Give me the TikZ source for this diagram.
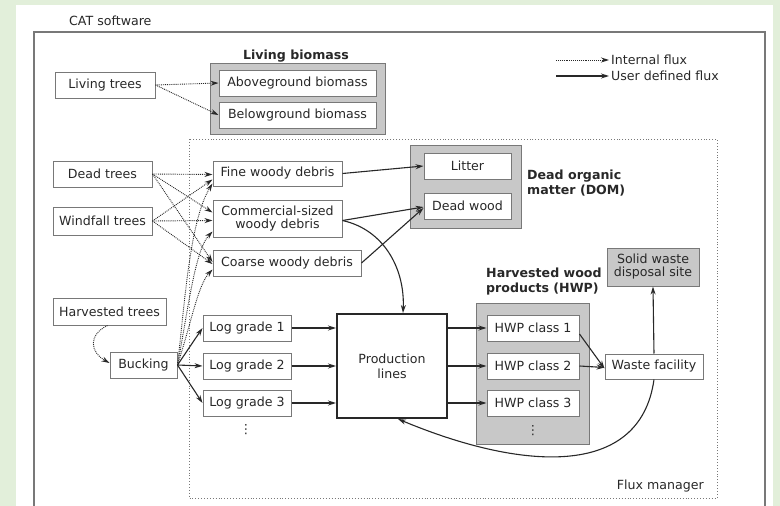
\documentclass[tikz,border=0pt]{standalone}
\usepackage{fontspec}
\setmainfont{DejaVu Sans}
\usetikzlibrary{arrows.meta}
\definecolor{bggreen}{RGB}{226,239,218}
\definecolor{ink}{RGB}{40,40,40}
\definecolor{boxline}{RGB}{120,120,120}
\definecolor{gfill}{RGB}{200,200,200}
\begin{document}
\begin{tikzpicture}[x=1pt,y=-1pt,
  every node/.style={font=\fontsize{12.6}{15}\selectfont, text=ink, inner sep=0pt},
  wbox/.style={draw=boxline, fill=white, line width=1pt, align=center},
  gbox/.style={draw=boxline, fill=gfill, line width=1pt},
  ttl/.style={font=\fontsize{12.6}{15}\selectfont\bfseries, align=left},
  flow/.style={draw=ink, line width=1.1pt, -{Stealth[length=8pt,width=5pt]}},
  intf/.style={draw=ink, line width=0.9pt, densely dotted, -{Stealth[length=8pt,width=5pt]}}
]
\useasboundingbox (0,0) rectangle (780,506);
\fill[bggreen] (0,0) rectangle (780,506);
\fill[white] (16,5) rectangle (773,506);
% outer CAT box
\draw[boxline, line width=1.4pt] (34,506) -- (34,32) -- (765,32) -- (765,506);
\node[anchor=west] (cat) at (69,21) {CAT software};
% flux manager
\draw[boxline, line width=0.9pt, dotted] (189,139) rectangle (717,498);
\node[anchor=east] (fm) at (704,486) {Flux manager};

% legend
\coordinate (l1a) at (556,60); \coordinate (l1b) at (609,60);
\coordinate (l2a) at (556,76); \coordinate (l2b) at (609,76);
\draw[intf] (l1a) -- (l1b);
\draw[flow] (l2a) -- (l2b);
\node[anchor=west] (lt1) at (611,60) {Internal flux};
\node[anchor=west] (lt2) at (611,76) {User defined flux};

% living biomass
\node[gbox, minimum width=175pt, minimum height=71pt] (livg) at (297.5,98.5) {};
\node[ttl] (livt) at (296,56) {Living biomass};
\node[wbox, minimum width=157pt, minimum height=26pt] (above) at (297.5,83) {Aboveground biomass};
\node[wbox, minimum width=157pt, minimum height=26pt] (below) at (297.5,115) {Belowground biomass};
\node[wbox, minimum width=100pt, minimum height=26pt] (livtr) at (105,85) {Living trees};

% DOM
\node[gbox, minimum width=111pt, minimum height=83pt] (domg) at (465.5,186.5) {};
\node[wbox, minimum width=87pt, minimum height=26pt] (litter) at (467.5,166) {Litter};
\node[wbox, minimum width=87pt, minimum height=26pt] (dwood) at (467.5,206) {Dead wood};
\node[ttl, anchor=west] (domt) at (527,183) {Dead organic\\matter (DOM)};

% trees
\node[wbox, minimum width=99pt, minimum height=26pt] (dead) at (102.5,174) {Dead trees};
\node[wbox, minimum width=99pt, minimum height=28pt] (wind) at (102.5,221) {Windfall trees};
\node[wbox, minimum width=113pt, minimum height=27pt] (harv) at (109.5,311.5) {Harvested trees};
\node[wbox, minimum width=67pt, minimum height=26pt] (buck) at (143.5,365) {Bucking};

% debris
\node[wbox, minimum width=129pt, minimum height=25pt] (fine) at (277.5,173.5) {Fine woody debris};
\node[wbox, minimum width=129pt, minimum height=37pt] (comm) at (277.5,218.5) {Commercial-sized\\[-2pt]woody debris};
\node[wbox, minimum width=148pt, minimum height=26pt] (coarse) at (287,263) {Coarse woody debris};

% logs
\node[wbox, minimum width=88pt, minimum height=26pt] (lg1) at (247,328) {Log grade 1};
\node[wbox, minimum width=88pt, minimum height=26pt] (lg2) at (247,366) {Log grade 2};
\node[wbox, minimum width=88pt, minimum height=26pt] (lg3) at (247,403) {Log grade 3};
\node (lgd) at (246,430) {⋮};

% production
\node[draw=ink, fill=white, line width=2pt, minimum width=110pt, minimum height=104pt, align=center] (prod) at (392,366) {Production\\lines};

% HWP
\node[gbox, minimum width=113pt, minimum height=141pt] (hwpg) at (532.5,373.5) {};
\node[ttl, anchor=west] (hwpt) at (486,282) {Harvested wood\\products (HWP)};
\node[wbox, minimum width=92pt, minimum height=26pt] (h1) at (533,328) {HWP class 1};
\node[wbox, minimum width=92pt, minimum height=26pt] (h2) at (533,366) {HWP class 2};
\node[wbox, minimum width=92pt, minimum height=26pt] (h3) at (533,403) {HWP class 3};
\node (hd) at (533,431) {⋮};

% waste
\node[wbox, minimum width=98pt, minimum height=25pt] (waste) at (654,366.5) {Waste facility};
\node[gbox, minimum width=92pt, minimum height=38pt, align=center] (solid) at (653,267) {Solid waste\\[-2pt]disposal site};

% internal fluxes
\draw[intf] (livtr.east) -- (above.west);
\draw[intf] (livtr.east) -- (below.west);
\draw[intf] (dead.east) -- ([yshift=-1pt]fine.west);
\draw[intf] (dead.east) -- ([yshift=6pt]comm.west);
\draw[intf] (dead.east) -- ([yshift=1pt]coarse.west);
\draw[intf] (wind.east) -- ([yshift=7pt]fine.south west);
\draw[intf] (wind.east) -- ([yshift=-2pt]comm.west);
\draw[intf] (wind.east) -- ([yshift=-1pt]coarse.west);
\draw[intf] ([xshift=-2pt]harv.south) .. controls (88,335) and (90,352) .. ([yshift=2pt]buck.west);
\draw[intf] (buck.east) .. controls (185,300) and (190,220) .. ([yshift=3pt]fine.south west);
\draw[intf] (buck.east) .. controls (188,310) and (195,250) .. ([yshift=6pt]comm.south west);
\draw[intf] (buck.east) .. controls (192,320) and (198,285) .. ([yshift=7pt]coarse.south west);

% user-defined fluxes
\draw[flow] (buck.east) -- (lg1.west);
\draw[flow] (buck.east) -- (lg2.west);
\draw[flow] (buck.east) -- (lg3.west);
\draw[flow] (lg1.east) -- (prod.west |- lg1.east);
\draw[flow] (lg2.east) -- (prod.west |- lg2.east);
\draw[flow] (lg3.east) -- (prod.west |- lg3.east);
\draw[flow] (prod.east |- h1.west) -- (h1.west);
\draw[flow] (prod.east |- h2.west) -- (h2.west);
\draw[flow] (prod.east |- h3.west) -- (h3.west);
\draw[flow] ([yshift=-6pt]h1.east) -- ([yshift=-2pt]waste.west);
\draw[flow] (h2.east) -- ([yshift=-1pt]waste.west);
\draw[flow] (waste.north) -- (solid.south);
\draw[flow] (fine.east) -- (litter.west);
\draw[flow] ([yshift=-2pt]comm.east) -- ([yshift=-1pt]dwood.west);
\draw[flow] (coarse.east) -- ([yshift=-2pt]dwood.west);
\draw[flow] ([yshift=-2pt]comm.east) .. controls (385,230) and (405,270) .. ([xshift=11pt]prod.north);
\draw[flow] (waste.south) .. controls (640,480) and (520,470) .. ([xshift=6pt]prod.south);
\end{tikzpicture}
\end{document}
